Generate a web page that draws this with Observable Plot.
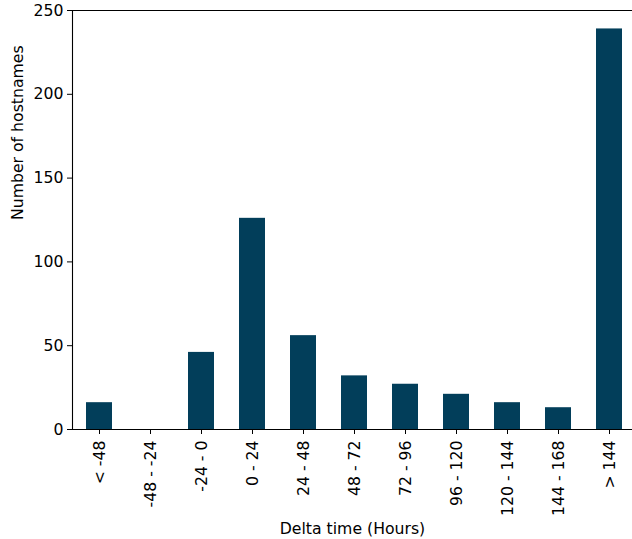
<!DOCTYPE html>
<html><head><meta charset="utf-8">
<script src="https://cdn.jsdelivr.net/npm/d3@7"></script>
<script src="https://cdn.jsdelivr.net/npm/@observablehq/plot@0.6"></script>
<style>html,body{margin:0;background:#fff;overflow:hidden;} svg{display:block;overflow:hidden}</style>
</head><body><div id="chart"></div>
<script>
const categories = ["< -48","-48 - -24","-24 - 0","0 - 24","24 - 48","48 - 72","72 - 96","96 - 120","120 - 144","144 - 168","> 144"];
const counts = [16, 0, 46, 126, 56, 32, 27, 21, 16, 13, 239];
const yTicks = [0, 50, 100, 150, 200, 250];
const data = categories.map((c, i) => ({category: c, count: counts[i]}));

const chart = Plot.plot({
  width: 632, height: 539,
  marginLeft: 72, marginTop: 10, marginBottom: 110, marginRight: 0,
  style: {fontFamily: "DejaVu Sans", fontSize: "15.7px", color: "#000", background: "#fff"},
  x: {domain: categories, paddingInner: 0.5, paddingOuter: 0.25, align: 0.5, range: [72, 636]},
  y: {domain: [0, 250]},
  marks: [
    Plot.barY(data, {x: "category", y: "count", fill: "#023e5a"}),
    Plot.axisY({ticks: yTicks, tickSize: 5, tickPadding: 4, label: null, stroke: "#000"}),
    Plot.axisX({tickSize: 5, tickPadding: 6, tickRotate: -90, label: null, stroke: "#000"}),
    Plot.frame({anchor: "top", stroke: "#000", strokeWidth: 1.1}),
    Plot.frame({anchor: "left", stroke: "#000", strokeWidth: 1.1}),
    Plot.frame({anchor: "bottom", stroke: "#000", strokeWidth: 1.1}),
    Plot.text(["Number of hostnames"], {frameAnchor: "left", dx: -55, rotate: -90, text: d => d}),
    Plot.text(["Delta time (Hours)"], {frameAnchor: "bottom", dy: 104, text: d => d})
  ]
});
document.getElementById("chart").appendChild(chart);
</script></body></html>
